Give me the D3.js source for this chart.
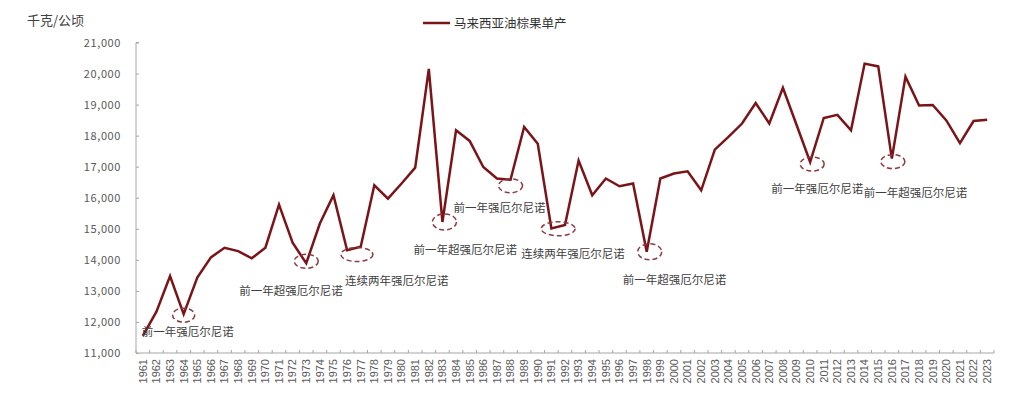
<!DOCTYPE html>
<html>
<head>
<meta charset="utf-8">
<script src="https://cdn.jsdelivr.net/npm/d3@7"></script>
<style>
  html, body { margin: 0; padding: 0; background: #fff; }
  svg { display: block; }
</style>
</head>
<body>
<div id="chart"></div>
<script>
// years 1961-2023
const years = d3.range(1961, 2024).map(String)

// 马来西亚油棕果单产, kg/ha
const yieldValues = [
  11550, 12330, 13480, 12250, 13430, 14080, 14390, 14280, 14050, 14390,
  15780, 14550, 13890, 15170, 16080, 14310, 14420, 16400, 15970, 16460,
  16970, 20150, 15220, 18170, 17830, 16990, 16620, 16580, 18280, 17740,
  15010, 15120, 17200, 16080, 16620, 16370, 16460, 14260, 16620, 16780,
  16850, 16240, 17550, 17960, 18390, 19050, 18390, 19540, 18350, 17150,
  18570, 18670, 18170, 20320, 20230, 17260, 19900, 18970, 18990, 18490,
  17760, 18470, 18510
]

const yTicks = [11000, 12000, 13000, 14000, 15000, 16000, 17000, 18000, 19000, 20000, 21000]

// El Nino notes: which years get circled and what the note says
const noteYears = [['1964'], ['1973'], ['1976', '1977'], ['1983'], ['1988'], ['1991', '1992'], ['1998'], ['2010'], ['2016']]
const noteLabels = [
  '前一年强厄尔尼诺', '前一年超强厄尔尼诺', '连续两年强厄尔尼诺',
  '前一年超强厄尔尼诺', '前一年强厄尔尼诺', '连续两年强厄尔尼诺',
  '前一年超强厄尔尼诺', '前一年强厄尔尼诺', '前一年超强厄尔尼诺'
]

const seriesName = '马来西亚油棕果单产'
const unitLabel = '千克/公顷'

// layout of the notes (pixels): ellipse nudge, ellipse radii, text offset from ellipse centre
const noteLayout = [
  { ex: 0, ey: 1, rx: 11, ry: 7, tx: -42, ty: 17 },
  { ex: 0, ey: -2, rx: 12, ry: 7, tx: -67, ty: 30 },
  { ex: 3, ey: 6, rx: 16, ry: 7, tx: -12, ty: 26 },
  { ex: 2, ey: 0, rx: 12, ry: 8, tx: -31, ty: 28 },
  { ex: 0, ey: 6, rx: 12, ry: 7, tx: -57, ty: 22 },
  { ex: 0, ey: 2, rx: 17, ry: 7, tx: -37, ty: 25 },
  { ex: 3, ey: 0, rx: 12, ry: 8, tx: -27, ty: 28 },
  { ex: 2, ey: 2, rx: 12, ry: 7, tx: -41, ty: 25 },
  { ex: 1, ey: 3, rx: 12, ry: 7, tx: -29, ty: 31 }
]

const width = 1024,
      height = 396,
      margin = { top: 42.5, right: 30, bottom: 43, left: 136 },
      lineColor = '#7a1418',
      axisColor = '#a6a6a6',
      labelColor = '#595959',
      cjk = '"Noto Sans CJK SC", "Noto Sans", sans-serif'

const svg = d3.select('#chart')
  .append('svg')
  .attr('width', width)
  .attr('height', height)

const x = d3.scaleBand()
  .domain(years)
  .range([margin.left, width - margin.right])

const y = d3.scaleLinear()
  .domain([11000, 21000])
  .range([height - margin.bottom, margin.top])

const cx = yr => x(yr) + x.bandwidth() / 2

// y axis, ticks pointing inwards
const yAxis = svg.append('g')
  .attr('transform', `translate(${margin.left},0)`)
  .call(d3.axisRight(y).tickValues(yTicks).tickSize(3).tickFormat(d3.format(',')))
yAxis.select('.domain').attr('stroke', axisColor).attr('d', `M3,${y(21000)}H0V${y(11000)}`)
yAxis.selectAll('.tick line').attr('stroke', axisColor)
yAxis.selectAll('.tick text')
  .attr('x', -15)
  .attr('text-anchor', 'end')
  .style('font-family', cjk)
  .style('font-size', '11px')
  .style('letter-spacing', '0.6px')
  .attr('fill', labelColor)

// x axis, ticks between categories pointing up
const xAxis = svg.append('g')
  .attr('transform', `translate(0,${y(11000)})`)
  .call(d3.axisBottom(x).tickSize(0))
xAxis.select('.domain').attr('stroke', axisColor).attr('d', `M${margin.left},0H${width - margin.right}`)
xAxis.selectAll('.tick text')
  .attr('transform', 'rotate(-90)')
  .attr('x', -6)
  .attr('y', 0)
  .attr('dy', '0.35em')
  .attr('text-anchor', 'end')
  .style('font-family', '"Liberation Sans", Arial, sans-serif')
  .style('font-size', '11px')
  .attr('fill', labelColor)

xAxis.selectAll('.sep')
  .data(years.concat(['end']))
  .enter()
  .append('line')
    .attr('x1', (d, i) => margin.left + i * x.step())
    .attr('x2', (d, i) => margin.left + i * x.step())
    .attr('y1', 0)
    .attr('y2', -3)
    .attr('stroke', axisColor)

// unit title
svg.append('text')
  .attr('x', 27)
  .attr('y', 25)
  .style('font-family', cjk)
  .style('font-size', '13px')
  .attr('fill', '#404040')
  .text(unitLabel)

// legend
const legend = svg.append('g').attr('transform', 'translate(423,23)')
legend.append('line')
  .attr('x1', 0).attr('x2', 27)
  .attr('stroke', lineColor)
  .attr('stroke-width', 2.5)
legend.append('text')
  .attr('x', 31)
  .attr('dy', '0.36em')
  .style('font-family', cjk)
  .style('font-size', '12.5px')
  .attr('fill', '#333')
  .text(seriesName)

// the series
const line = d3.line()
  .x((d, i) => cx(years[i]))
  .y(d => y(d))

svg.append('path')
  .datum(yieldValues)
  .attr('fill', 'none')
  .attr('stroke', lineColor)
  .attr('stroke-width', 2.5)
  .attr('stroke-linejoin', 'miter')
  .attr('d', line)

// notes: dashed ellipses + text
const notes = svg.append('g')
noteYears.forEach((yrs, i) => {
  const lay = noteLayout[i]
  const ex = d3.mean(yrs, yr => cx(yr)) + lay.ex
  const ey = d3.mean(yrs, yr => y(yieldValues[years.indexOf(yr)])) + lay.ey
  notes.append('ellipse')
    .attr('cx', ex)
    .attr('cy', ey)
    .attr('rx', lay.rx)
    .attr('ry', lay.ry)
    .attr('fill', 'none')
    .attr('stroke', '#8c3a40')
    .attr('stroke-width', 1.5)
    .attr('stroke-dasharray', '5,3')
  notes.append('text')
    .attr('x', ex + lay.tx)
    .attr('y', ey + lay.ty)
    .attr('dy', '0.36em')
    .style('font-family', cjk)
    .style('font-size', '11.5px')
    .attr('fill', '#404040')
    .text(noteLabels[i])
})
</script>
</body>
</html>
